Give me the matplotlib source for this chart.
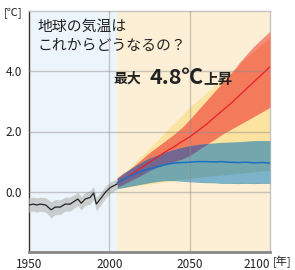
import matplotlib
matplotlib.use("Agg")
import matplotlib.pyplot as plt
import numpy as np

plt.rcParams['font.family'] = ['Noto Sans CJK JP', 'DejaVu Sans']

hist_years = [1950, 1952.7, 1954.8, 1956.9, 1960.4, 1963.8, 1966.3, 1969.4, 1972.5, 1975.6,
              1980.4, 1982.5, 1985, 1988, 1990.2, 1991.9, 1994.4, 1997.5, 2000.6, 2002.7, 2005]
hist_vals = [-0.44, -0.41, -0.44, -0.41, -0.44, -0.60, -0.51, -0.51, -0.41, -0.41,
             -0.24, -0.38, -0.24, -0.19, -0.04, -0.41, -0.24, -0.02, 0.14, 0.20, 0.26]
hist_spread = [0.24, 0.23, 0.24, 0.23, 0.24, 0.27, 0.25, 0.24, 0.23, 0.23,
               0.22, 0.22, 0.22, 0.22, 0.21, 0.22, 0.21, 0.20, 0.19, 0.18, 0.17]

fut_years = [2005, 2010, 2015, 2020, 2025, 2030, 2035, 2040, 2045, 2050,
             2055, 2060, 2065, 2070, 2075, 2080, 2085, 2090, 2095, 2100]
red_mean = [0.30, 0.45, 0.62, 0.80, 0.98, 1.15, 1.33, 1.48, 1.66, 1.82,
            2.02, 2.22, 2.45, 2.68, 2.90, 3.15, 3.40, 3.65, 3.90, 4.15]
red_high = [0.45, 0.65, 0.85, 1.07, 1.30, 1.50, 1.70, 1.90, 2.12, 2.40,
            2.70, 3.00, 3.30, 3.60, 3.90, 4.20, 4.50, 4.80, 5.05, 5.30]
red_low = [0.15, 0.28, 0.42, 0.55, 0.70, 0.82, 0.92, 1.00, 1.08, 1.20,
           1.38, 1.55, 1.72, 1.90, 2.05, 2.20, 2.35, 2.50, 2.65, 2.80]
blue_mean = [0.30, 0.45, 0.57, 0.68, 0.76, 0.83, 0.90, 0.95, 0.97, 0.98,
             1.00, 1.00, 0.99, 1.00, 0.98, 0.97, 0.98, 0.96, 0.97, 0.95]
blue_high = [0.45, 0.65, 0.82, 0.98, 1.12, 1.22, 1.32, 1.40, 1.47, 1.53,
             1.57, 1.60, 1.62, 1.64, 1.65, 1.66, 1.68, 1.70, 1.70, 1.70]
blue_low = [0.10, 0.15, 0.20, 0.25, 0.30, 0.34, 0.37, 0.37, 0.35, 0.33,
            0.32, 0.30, 0.30, 0.28, 0.28, 0.27, 0.28, 0.27, 0.28, 0.28]
wedge_years = [2005, 2050, 2100]
wedge_high = [0.37, 2.80, 5.10]
wedge_low = [0.12, 0.43, 0.70]

x_ticks = [1950, 2000, 2050, 2100]
x_labels = ["1950", "2000", "2050", "2100"]
y_ticks = [0.0, 2.0, 4.0]
y_labels = ["0.0", "2.0", "4.0"]

fig = plt.figure(figsize=(2.95, 2.70), dpi=100)
ax = fig.add_axes([29/295, 18/270, 241/295, 241/270])
ax.set_xlim(1950, 2100)
ax.set_ylim(-2, 6)

ax.axvspan(1950, 2005, color='#edf5fc', zorder=0, lw=0)
ax.axvspan(2005, 2100, color='#fdefd5', zorder=0, lw=0)

yrs = np.array(fut_years, dtype=float)
rl, rh = np.array(red_low), np.array(red_high)
bl, bh = np.array(blue_low), np.array(blue_high)
wl = np.interp(yrs, wedge_years, wedge_low)
wh = np.interp(yrs, wedge_years, wedge_high)

# yellow wedge
ax.fill_between(yrs, wl, wh, color='#fde3a0', lw=0, zorder=2)
# red band (over yellow) and lighter part above wedge
ax.fill_between(yrs, rl, rh, color='#f47a5c', lw=0, zorder=3)
top_lo = np.maximum(rl, wh)
ax.fill_between(yrs, top_lo, rh, where=rh > top_lo, interpolate=True,
                color='#f48d7c', lw=0, zorder=3.1)
# blue band (teal over yellow), lighter blue below wedge
ax.fill_between(yrs, bl, bh, color='#74a7ad', lw=0, zorder=3.2)
bot_hi = np.minimum(bh, wl)
ax.fill_between(yrs, bl, bot_hi, where=bot_hi > bl, interpolate=True,
                color='#7cb3cb', lw=0, zorder=3.3)
# overlap of red and blue
ov_lo = np.maximum(rl, bl)
ov_hi = np.minimum(rh, bh)
ax.fill_between(yrs, ov_lo, ov_hi, where=ov_hi > ov_lo, interpolate=True,
                color='#75668f', lw=0, zorder=3.4)

hv = np.array(hist_vals)
hs = np.array(hist_spread)
ax.fill_between(hist_years, hv - hs, hv + hs, color='#c9cdcd', lw=0, zorder=3)

for y in y_ticks:
    ax.axhline(y, color='#8a8a8a', alpha=0.45, lw=1, zorder=4)
for x in [2000, 2050]:
    ax.axvline(x, color='#8a8a8a', alpha=0.45, lw=1, zorder=4)

ax.plot(hist_years, hist_vals, color='#222222', lw=0.9, zorder=6)
ax.plot(fut_years, red_mean, color='#e8202a', lw=0.9, zorder=6)
ax.plot(fut_years, blue_mean, color='#1a6fc0', lw=1.1, zorder=6)

ax.set_xticks(x_ticks)
ax.set_xticklabels(x_labels)
ax.get_xticklabels()[-1].set_ha('right')
ax.set_yticks(y_ticks)
ax.set_yticklabels(y_labels)
ax.tick_params(length=0, labelsize=8.5, colors='#222222')
ax.tick_params(axis='y', pad=5)
ax.tick_params(axis='x', pad=4)
for s in ['top', 'right']:
    ax.spines[s].set_color('#c4c4c4')
    ax.spines[s].set_linewidth(1)
ax.spines['left'].set_color('#333333')
ax.spines['left'].set_linewidth(1)
ax.spines['bottom'].set_color('#888888')
ax.spines['bottom'].set_linewidth(2)

fig.text(4/295, 1 - 13/270, "[℃]", fontsize=8, color='#222222', va='center', ha='left')
fig.text(273/295, 1 - 262/270, "[年]", fontsize=8, color='#222222', va='center', ha='left')

fig.text(37/295, 1 - 27/270, "地球の気温は", fontsize=10.7, color='#222222', va='center', ha='left')
fig.text(37/295, 1 - 46/270, "これからどうなるの？", fontsize=10.7, color='#222222', va='center', ha='left')

fig.text(113/295, 1 - 79/270, "最大", fontsize=10, fontweight='bold', color='#222222', va='center', ha='left')
fig.text(149/295, 1 - 77/270, "4.8℃", fontsize=15.5, fontweight='bold', color='#222222', va='center', ha='left')
fig.text(203/295, 1 - 79/270, "上昇", fontsize=10.5, fontweight='bold', color='#222222', va='center', ha='left')

fig.savefig("out.png", dpi=100)
